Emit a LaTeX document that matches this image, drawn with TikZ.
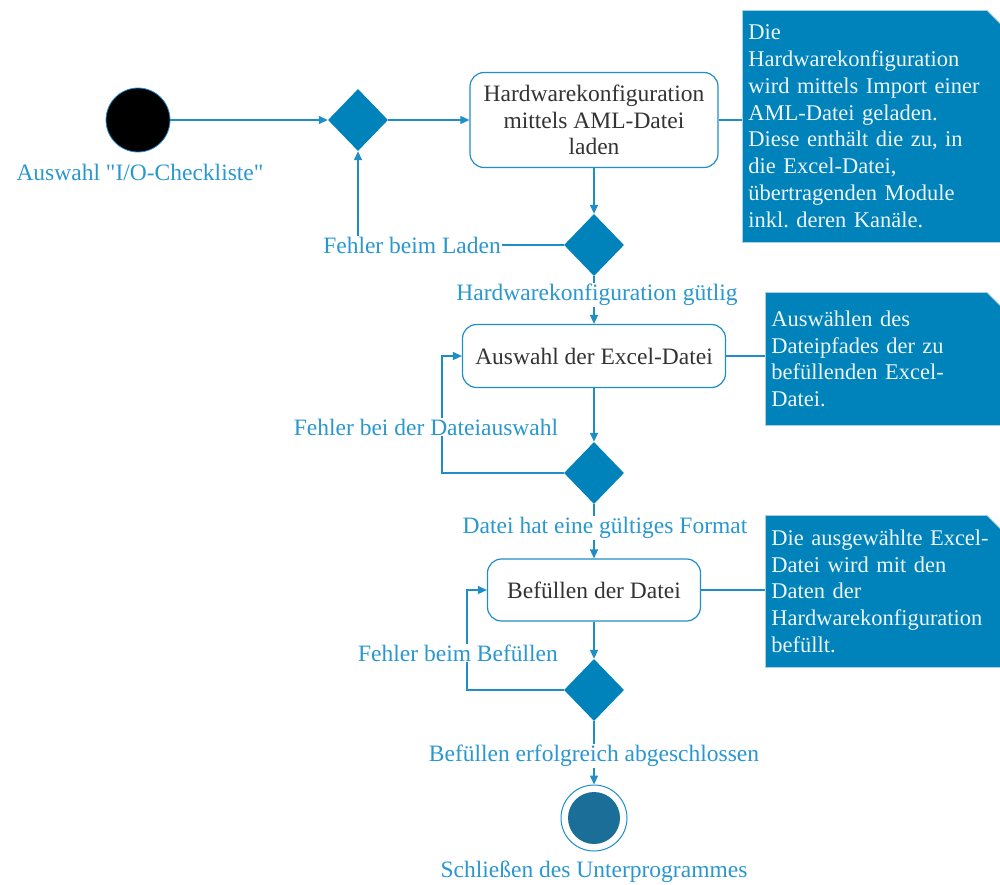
\documentclass[tikz,border=0pt]{standalone}
\usepackage{fontspec}
\setmainfont{Liberation Serif}
\usepackage{xcolor}
\usepackage{tikz}
\usetikzlibrary{positioning, arrows.meta, shapes.geometric}

\definecolor{umlblue}{HTML}{0083BA}
\definecolor{lineblue}{HTML}{1F8DC6}
\definecolor{labelblue}{HTML}{2A97CF}
\definecolor{endblue}{HTML}{1B6E97}
\definecolor{notetext}{HTML}{EEF4F8}

\begin{document}
\begin{tikzpicture}[x=1pt, y=-1pt,
    every node/.style={font=\fontsize{23.5}{26.5}\selectfont},
    action/.style={draw=lineblue, line width=1.2pt, rounded corners=14pt, fill=white, text=black!80, align=center, inner sep=4pt},
    decision/.style={diamond, fill=umlblue, minimum width=60pt, minimum height=62pt, inner sep=0pt},
    flow/.style={draw=lineblue, line width=1.4pt, -{Triangle[length=9pt, width=8pt]}},
    link/.style={draw=lineblue, line width=1.2pt},
    guard/.style={fill=white, text=labelblue, inner sep=1pt},
    notebox/.style={anchor=north west, fill=umlblue, draw=lineblue!40, line width=0.6pt, text=notetext, align=left,
        font=\fontsize{22.5}{26.8}\selectfont, inner xsep=6pt, inner ysep=8pt}
]
\useasboundingbox (0,0) rectangle (1000,884);

% start, actions and decisions
\node[circle, fill=black, draw=lineblue, line width=0.8pt, minimum size=64pt, inner sep=0pt] (start) at (138,120) {};
\node[text=labelblue] (startlbl) at (140,172) {Auswahl \textquotedbl I/O-Checkliste\textquotedbl};

\node[decision] (merge) at (358,120) {};
\node[action, minimum width=248pt, minimum height=95pt] (load) at (594,120) {Hardwarekonfiguration\\mittels AML-Datei\\laden};
\node[decision] (chkload) at (594,245) {};

\node[action, minimum width=263pt, minimum height=63pt] (excel) at (594,356) {Auswahl der Excel-Datei};
\node[decision] (chkfile) at (594,473) {};

\node[action, minimum width=213pt, minimum height=62pt] (fill) at (594,590) {Befüllen der Datei};
\node[decision] (chkfill) at (594,690) {};

\node[circle, draw=lineblue, line width=1pt, minimum size=66pt, inner sep=0pt] (stop) at (594,818) {};
\node[circle, fill=endblue, minimum size=52pt, inner sep=0pt] (stopcore) at (stop) {};
\node[text=labelblue] (stoplbl) at (594,872) {Schließen des Unterprogrammes};

% notes
\node[notebox, text width=246pt, minimum height=232pt] (noteload) at (742,10) {Die\\Hardwarekonfiguration\\wird mittels Import einer\\AML-Datei geladen.\\Diese enthält die zu, in\\die Excel-Datei,\\übertragenden Module\\inkl.\ deren Kanäle.};
\node[notebox, text width=223pt, minimum height=133pt] (noteexcel) at (765,292) {Auswählen des\\Dateipfades der zu\\befüllenden Excel-\\Datei.};
\node[notebox, text width=223pt, minimum height=152pt] (notefill) at (765,515) {Die ausgewählte Excel-\\Datei wird mit den\\Daten der\\Hardwarekonfiguration\\befüllt.};

\foreach \n in {noteload, noteexcel, notefill} {
    \fill[white] (\n.north east) -- ([xshift=-14pt]\n.north east) -- ([yshift=-14pt]\n.north east) -- cycle;
    \draw[lineblue!40, line width=0.6pt] ([xshift=-14pt]\n.north east) -- ([yshift=-14pt]\n.north east);
}

\draw[link] (load.east) -- (load.east -| noteload.west);
\draw[link] (excel.east) -- (excel.east -| noteexcel.west);
\draw[link] (fill.east) -- (fill.east -| notefill.west);

% control flow
\draw[flow] (start) -- (merge);
\draw[flow] (merge) -- (load);
\draw[flow] (load) -- (chkload);
\draw[flow] (chkload.west) -| (merge.south);
\draw[flow] (chkload) -- (excel);
\draw[flow] (excel) -- (chkfile);
\draw[flow] (chkfile.west) -| ([xshift=-20pt]excel.west) -- (excel.west);
\draw[flow] (chkfile) -- (fill);
\draw[flow] (fill) -- (chkfill);
\draw[flow] (chkfill.west) -| ([xshift=-20pt]fill.west) -- (fill.west);
\draw[flow] (chkfill) -- (stop);

% guards
\node[guard] (errload) at (412,245) {Fehler beim Laden};
\node[guard] (okload) at (597,295) {Hardwarekonfiguration gütlig};
\node[guard] (errfile) at (426,427) {Fehler bei der Dateiauswahl};
\node[guard] (okfile) at (605,528) {Datei hat eine gültiges Format};
\node[guard] (errfill) at (458,653) {Fehler beim Befüllen};
\node[guard] (okfill) at (594,756) {Befüllen erfolgreich abgeschlossen};
\end{tikzpicture}
\end{document}
